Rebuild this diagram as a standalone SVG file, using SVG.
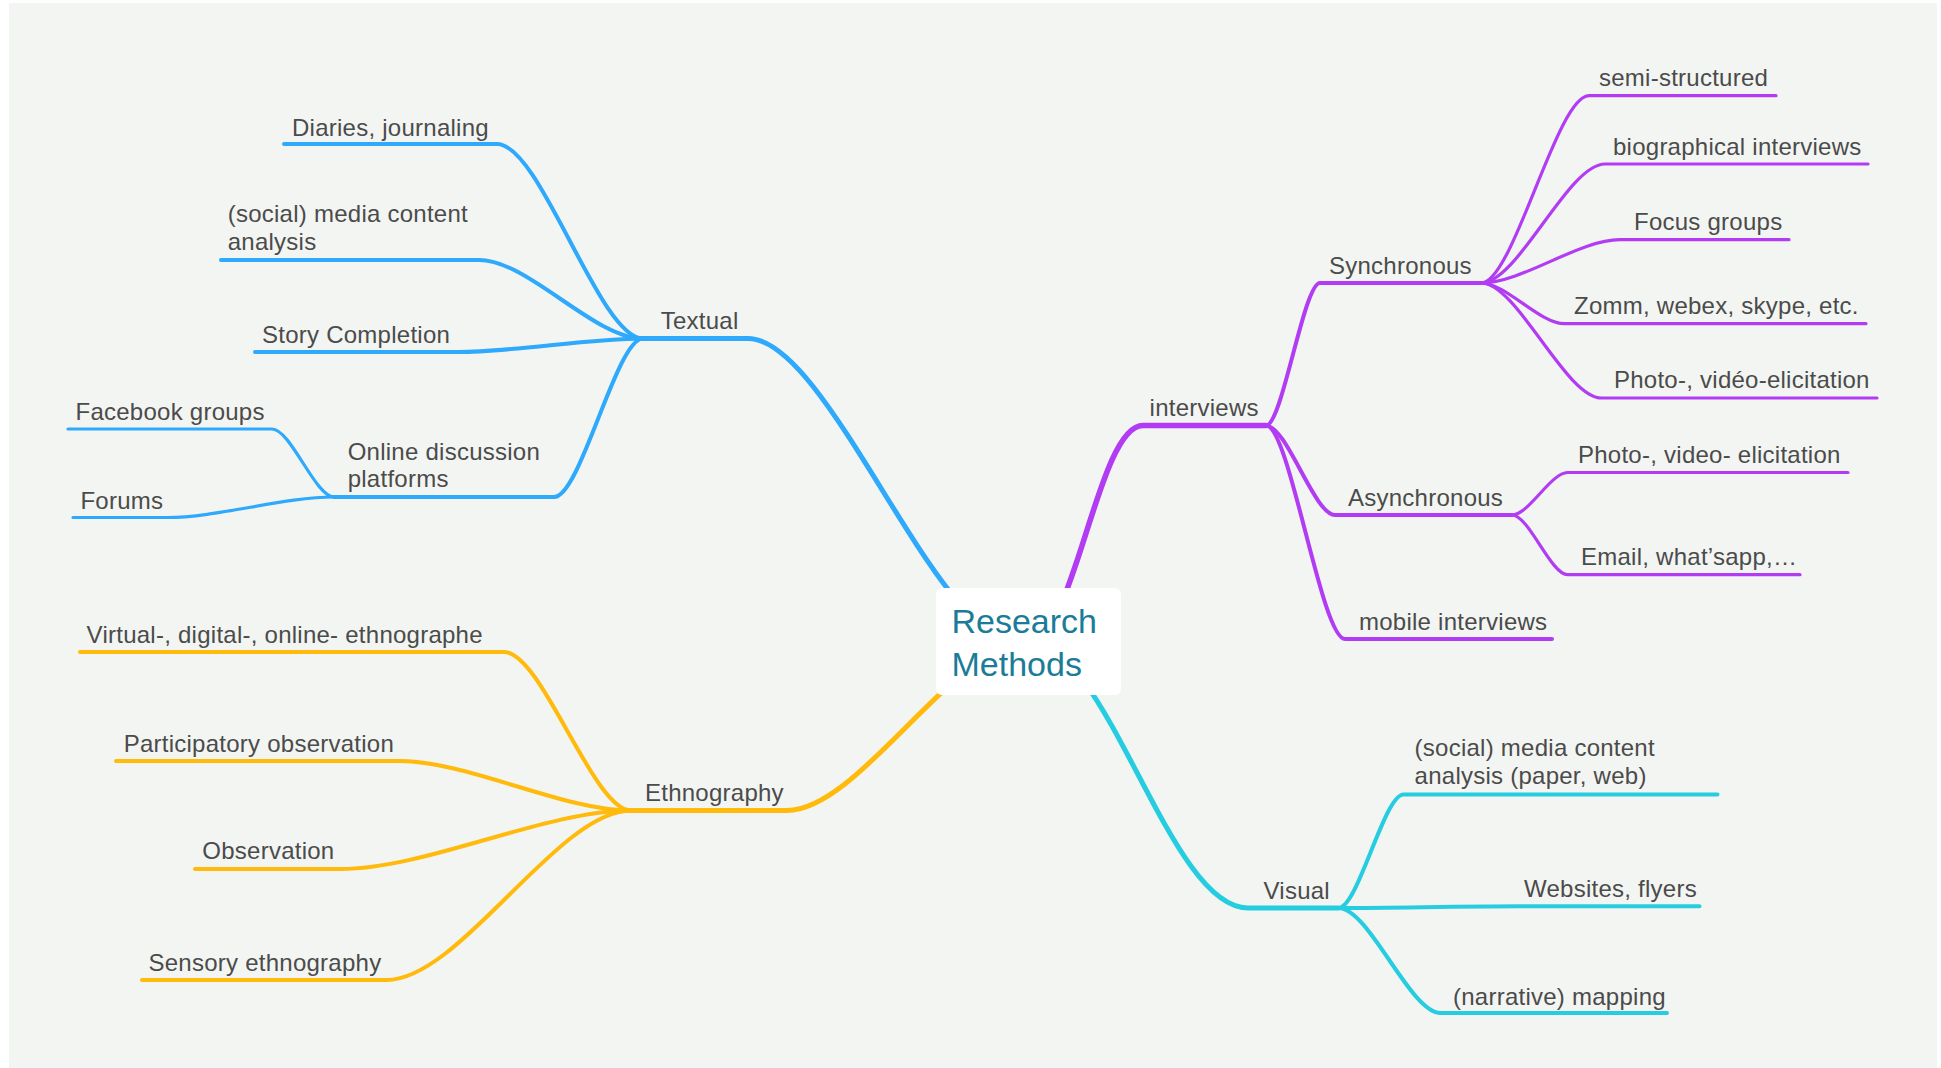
<svg xmlns="http://www.w3.org/2000/svg" width="1941" height="1068" viewBox="0 0 1941 1068">
<style>
.t{font-family:"Helvetica Neue","Liberation Sans",Arial,sans-serif;font-size:24px;letter-spacing:0.25px;fill:#4b4b4b}
.c{font-family:"Helvetica Neue","Liberation Sans",Arial,sans-serif;font-size:34px;fill:#1a7c98}
path{fill:none;stroke-linecap:round;stroke-linejoin:round}
.b{stroke:#2ea9fb}.p{stroke:#b23cf3}.y{stroke:#ffba0c}.cy{stroke:#26cde0}
.w1{stroke-width:5}.w0{stroke-width:5.6}.w2{stroke-width:4}.w3{stroke-width:3.2}
</style>
<rect x="0" y="0" width="1941" height="1068" fill="#ffffff"/>
<rect x="9" y="3" width="1928" height="1065" fill="#f3f5f2"/>
<g id="connectors">
<path class="b w1" d="M643,338.5 H748 C828.4,338.5 935.6,641 1016,641"/>
<path class="b w2" d="M284,144 H497 C540.8,144 599.2,338.5 643,338.5"/>
<path class="b w2" d="M221,260 H479 C528.2,260 593.8,338.5 643,338.5"/>
<path class="b w2" d="M255,352 H458 C513.5,352 587.5,338.5 643,338.5"/>
<path class="b w2" d="M643,338.5 C616.3,338.5 580.7,497 554,497 H334"/>
<path class="b w3" d="M68,429 H272 C290.6,429 315.4,497 334,497"/>
<path class="b w3" d="M73,517.5 H167 C217,517.5 284,497 334,497"/>
<path class="y w1" d="M631,810.5 H787 C859,810.5 956,641 1028,641"/>
<path class="y w2" d="M80,652 H504 C542,652 593,810.5 631,810.5"/>
<path class="y w2" d="M116,761 H399 C468.6,761 561.4,810.5 631,810.5"/>
<path class="y w2" d="M195,869 H340 C427,869 544,810.5 631,810.5"/>
<path class="y w2" d="M142,980 H386.6 C459.9,980 557.7,810.5 631,810.5"/>
<path class="p w0" d="M1266,425.5 H1143 C1097.4,425.5 1074.6,641 1029,641"/>
<path class="p w2" d="M1266,425.5 C1282.2,425.5 1303.8,283 1320,283 H1481"/>
<path class="p w2" d="M1266,425.5 C1286.7,425.5 1314.3,515 1335,515 H1512"/>
<path class="p w2" d="M1266,425.5 C1289.7,425.5 1321.3,639 1345,639 H1552"/>
<path class="p w3" d="M1481,283 C1513.4,283 1556.6,95.7 1589,95.7 H1776"/>
<path class="p w3" d="M1481,283 C1518.2,283 1567.8,164 1605,164 H1868"/>
<path class="p w3" d="M1481,283 C1522.7,283 1578.3,239.7 1620,239.7 H1789"/>
<path class="p w3" d="M1481,283 C1506,283 1539.5,323.7 1564.5,323.7 H1866"/>
<path class="p w3" d="M1481,283 C1517.2,283 1565.4,398 1601.6,398 H1877"/>
<path class="p w3" d="M1512,515 C1528.7,515 1550.9,472.5 1567.6,472.5 H1848"/>
<path class="p w3" d="M1512,515 C1528.7,515 1550.9,574.7 1567.6,574.7 H1800"/>
<path class="cy w1" d="M1028,641 C1108,641 1168,908 1248,908 H1338.5"/>
<path class="cy w2" d="M1338.5,908 C1358,908 1384,794.5 1403.5,794.5 H1717.5"/>
<path class="cy w2" d="M1338.5,908 C1400,908 1450,906.3 1520,906.3 H1699.5"/>
<path class="cy w2" d="M1338.5,908 C1369.1,908 1410,1013 1440.6,1013 H1667"/>
</g>
<g id="root">
<rect x="936" y="588" width="185" height="107" rx="6" fill="#ffffff"/>
<text class="c" x="951.5" y="632.5">Research</text>
<text class="c" x="951.5" y="676">Methods</text>
</g>
<g id="textual"><text class="t" x="660.7" y="329">Textual</text></g>
<g id="diaries"><text class="t" x="292" y="136">Diaries, journaling</text></g>
<g id="social-text"><text class="t" x="227.7" y="222">(social) media content</text><text class="t" x="227.7" y="250">analysis</text></g>
<g id="story"><text class="t" x="262" y="342.6">Story Completion</text></g>
<g id="online"><text class="t" x="347.7" y="459.7">Online discussion</text><text class="t" x="347.7" y="487.3">platforms</text></g>
<g id="facebook"><text class="t" x="75.5" y="420">Facebook groups</text></g>
<g id="forums"><text class="t" x="80.4" y="509">Forums</text></g>
<g id="ethnography"><text class="t" x="645" y="801">Ethnography</text></g>
<g id="virtual"><text class="t" x="86.6" y="642.7">Virtual-, digital-, online- ethnographe</text></g>
<g id="participatory"><text class="t" x="123.7" y="752">Participatory observation</text></g>
<g id="observation"><text class="t" x="202.3" y="859">Observation</text></g>
<g id="sensory"><text class="t" x="148.5" y="971">Sensory ethnography</text></g>
<g id="interviews"><text class="t" x="1149.6" y="416">interviews</text></g>
<g id="synchronous"><text class="t" x="1329" y="273.8">Synchronous</text></g>
<g id="semi"><text class="t" x="1599" y="86">semi-structured</text></g>
<g id="bio"><text class="t" x="1613" y="155">biographical interviews</text></g>
<g id="focus"><text class="t" x="1634" y="230">Focus groups</text></g>
<g id="zomm"><text class="t" x="1574" y="314">Zomm, webex, skype, etc.</text></g>
<g id="photo-sync"><text class="t" x="1614" y="388.4">Photo-, vidéo-elicitation</text></g>
<g id="asynchronous"><text class="t" x="1348" y="505.5">Asynchronous</text></g>
<g id="photo-async"><text class="t" x="1578" y="463">Photo-, video- elicitation</text></g>
<g id="email"><text class="t" x="1581" y="565">Email, what’sapp,…</text></g>
<g id="mobile"><text class="t" x="1359" y="630">mobile interviews</text></g>
<g id="visual"><text class="t" x="1263.5" y="898.6">Visual</text></g>
<g id="visual-social"><text class="t" x="1414.6" y="755.5">(social) media content</text><text class="t" x="1414.6" y="784">analysis (paper, web)</text></g>
<g id="websites"><text class="t" x="1524" y="897">Websites, flyers</text></g>
<g id="mapping"><text class="t" x="1453" y="1004.6">(narrative) mapping</text></g>
</svg>
